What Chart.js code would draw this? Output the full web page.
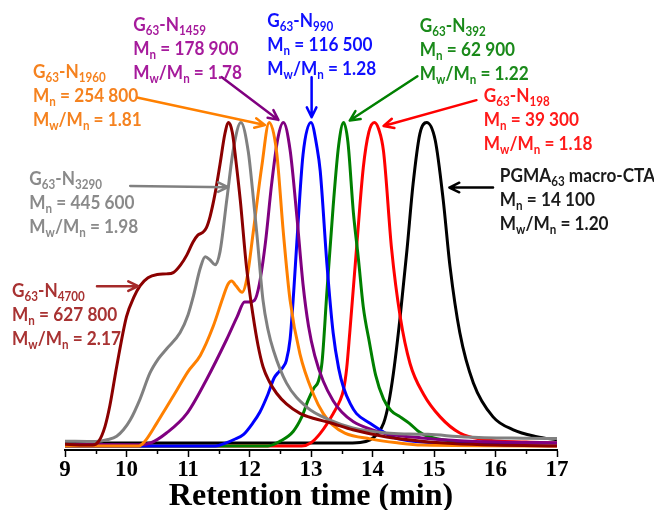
<!DOCTYPE html>
<html>
<head>
<meta charset="utf-8">
<script src="https://cdn.jsdelivr.net/npm/chart.js@4/dist/chart.umd.min.js"></script>
<style>
  body { margin: 0; background: #fff; }
  #wrap { width: 654px; height: 510px; position: relative; }
</style>
</head>
<body>
<div id="wrap"><canvas id="gpc"></canvas></div>
<script>
// retention time (min) and normalised RI signal for each trace
const tN4700 = [9, 9.45, 9.55, 9.65, 9.73, 9.84, 10.0, 10.12, 10.22, 10.35, 10.5, 10.65, 10.76, 10.88, 10.98, 11.08, 11.16, 11.24, 11.3, 11.36, 11.44, 11.52, 11.6, 11.66, 11.72, 11.78, 11.85, 11.95, 12.06, 12.14, 12.22, 12.32, 12.44, 12.6, 12.82, 13.05, 13.31, 13.68, 14.23, 14.8, 15.3, 16, 17];
const yN4700 = [0.5, 0.3, 1.5, 6, 12.5, 24.5, 40, 46, 49.5, 52, 53, 53.2, 53.6, 56, 59, 63, 65.2, 66, 67.5, 71, 78, 87, 96.5, 100, 97, 88, 76, 55.5, 40, 31, 24.5, 20, 16.3, 13, 10.1, 8.5, 7.2, 5, 2.8, 1.5, 0.8, 0.3, 0];

const tN3290 = [9, 9.5, 9.7, 9.84, 9.95, 10.06, 10.22, 10.38, 10.52, 10.65, 10.87, 11.0, 11.09, 11.2, 11.28, 11.36, 11.44, 11.52, 11.63, 11.74, 11.86, 11.98, 12.05, 12.12, 12.22, 12.3, 12.39, 12.6, 12.93, 13.31, 13.68, 14.23, 14.6, 14.9, 15.5, 16.5, 17];
const yN3290 = [1.5, 1.4, 2, 3, 5, 8, 14.5, 22.5, 27, 30, 35, 40.5, 46.5, 55, 58.5, 57.5, 56, 60, 76, 92, 100, 91, 79, 65.5, 45, 36, 29.5, 19.5, 12, 8, 5.6, 4, 3.7, 3.6, 2.8, 2.4, 2.3];

const tN1960 = [9, 10.2, 10.3, 10.49, 10.65, 10.82, 11.0, 11.2, 11.41, 11.57, 11.65, 11.71, 11.78, 11.88, 11.96, 12.06, 12.2, 12.32, 12.44, 12.55, 12.66, 12.82, 13.04, 13.2, 13.35, 13.55, 13.96, 14.4, 14.8, 17];
const yN1960 = [0, 0, 1.5, 7, 12, 17.3, 23, 28, 37, 46, 50, 51, 49.5, 47.5, 52, 66, 86.5, 100, 91, 66, 45, 28.5, 16, 10, 6.5, 4, 2.2, 1, 0.3, 0];

const tN1459 = [9, 10.2, 10.4, 10.65, 10.98, 11.3, 11.63, 11.8, 11.92, 12.0, 12.08, 12.16, 12.26, 12.36, 12.46, 12.55, 12.66, 12.77, 12.87, 12.96, 13.06, 13.2, 13.36, 13.5, 13.69, 14.0, 14.23, 14.8, 15.3, 16, 17];
const yN1459 = [0.5, 0.4, 1, 4, 10, 20.5, 33, 40, 44.5, 44.5, 45, 50, 63, 81, 95, 100, 91.5, 71, 50, 37, 28, 20, 14, 10.5, 7.5, 5, 3.8, 2.5, 1.8, 1.2, 1];

const tN990 = [9, 11.45, 11.6, 11.75, 11.9, 12.05, 12.17, 12.3, 12.4, 12.48, 12.55, 12.6, 12.66, 12.72, 12.77, 12.87, 13.0, 13.1, 13.15, 13.26, 13.36, 13.45, 13.53, 13.64, 13.74, 13.96, 14.12, 14.3, 14.5, 15, 16, 17];
const yN990 = [0, 0, 0.8, 2, 3.5, 7, 10.5, 16, 21, 23, 24.5, 26.5, 33, 48, 63, 90, 100, 92, 85, 56, 35, 24, 18, 13, 10, 7, 5, 3, 1.9, 1, 0.7, 0.6];

const tN392 = [9, 12.3, 12.5, 12.71, 12.85, 12.95, 13.05, 13.12, 13.18, 13.26, 13.36, 13.45, 13.53, 13.6, 13.69, 13.77, 13.85, 13.95, 14.05, 14.18, 14.3, 14.45, 14.6, 14.75, 14.9, 15.3, 16, 17];
const yN392 = [0, 0, 1.5, 4.5, 9, 14, 18, 20, 26, 48, 74, 93, 100, 94, 72, 58, 43, 32, 22, 14.5, 11, 9, 7, 4.5, 3, 1.5, 0.6, 0.4];

const tN198 = [9, 12.85, 13.0, 13.15, 13.36, 13.47, 13.53, 13.58, 13.63, 13.74, 13.85, 13.94, 14.03, 14.1, 14.18, 14.31, 14.45, 14.61, 14.83, 15.1, 15.42, 15.8, 16.5, 17];
const yN198 = [0, 0, 1, 3.9, 10, 14, 17.5, 24, 35, 61, 86, 97, 100, 98, 91, 61, 40, 25.5, 16, 9, 4, 2, 1.2, 0.9];

const tCTA = [9, 13.5, 13.8, 13.96, 14.08, 14.18, 14.26, 14.34, 14.45, 14.56, 14.66, 14.77, 14.88, 15.02, 15.15, 15.26, 15.42, 15.64, 15.96, 16.29, 16.67, 17];
const yCTA = [0.9, 0.9, 1.1, 1.9, 3.8, 7, 13, 22.5, 40, 60.5, 81, 96.5, 100, 94.5, 76, 55.5, 35, 19.5, 9, 5, 2.9, 1.9];

// annotation texts, _{..} marks a subscript
const txtN4700 = ['G_{63}-N_{4700}', 'M_{n} = 627 800', 'M_{w}/M_{n} = 2.17'];
const txtN3290 = ['G_{63}-N_{3290}', 'M_{n} = 445 600', 'M_{w}/M_{n} = 1.98'];
const txtN1960 = ['G_{63}-N_{1960}', 'M_{n} = 254 800', 'M_{w}/M_{n} = 1.81'];
const txtN1459 = ['G_{63}-N_{1459}', 'M_{n} = 178 900', 'M_{w}/M_{n} = 1.78'];
const txtN990 = ['G_{63}-N_{990}', 'M_{n} = 116 500', 'M_{w}/M_{n} = 1.28'];
const txtN392 = ['G_{63}-N_{392}', 'M_{n} = 62 900', 'M_{w}/M_{n} = 1.22'];
const txtN198 = ['G_{63}-N_{198}', 'M_{n} = 39 300', 'M_{w}/M_{n} = 1.18'];
const txtCTA = ['PGMA_{63} macro-CTA', 'M_{n} = 14 100', 'M_{w}/M_{n} = 1.20'];

const xTitle = 'Retention time (min)';

function pts(xs, ys) {
  return xs.map((x, i) => ({x: x, y: ys[i]}));
}

function trace(label, xs, ys, color) {
  return {
    label: label,
    data: pts(xs, ys),
    borderColor: color,
    backgroundColor: color,
    borderWidth: 3,
    pointRadius: 0,
    fill: false,
    cubicInterpolationMode: 'monotone'
  };
}

// label anchor (data coords), text colour, arrow from -> to (data coords)
const notes = [
  {text: txtN4700, at: [8.14, 46.0], color: '#a83232', arrow: [[9.52, 49.4], [10.19, 49.4]], arrowColor: '#a52a2a'},
  {text: txtN3290, at: [8.42, 80.6], color: '#8a8a8a', arrow: [[10.06, 80.4], [11.65, 80.0]], arrowColor: '#808080'},
  {text: txtN1960, at: [8.48, 113.6], color: '#f5821f', arrow: [[10.17, 107.7], [12.25, 99.2]], arrowColor: '#ff8000'},
  {text: txtN1459, at: [10.11, 128.4], color: '#a61b9c', arrow: [[11.55, 114.0], [12.47, 100.8]], arrowColor: '#800080'},
  {text: txtN990, at: [12.29, 129.5], color: '#1010ff', arrow: [[13.01, 114.0], [13.01, 101.6]], arrowColor: '#0000ff'},
  {text: txtN392, at: [14.77, 127.9], color: '#1a8a1a', arrow: [[14.73, 114.3], [13.63, 100.6]], arrowColor: '#008000'},
  {text: txtN198, at: [15.81, 106.3], color: '#ff1a1a', arrow: [[15.69, 106.9], [14.18, 98.9]], arrowColor: '#ff0000'},
  {text: txtCTA, at: [16.07, 81.5], color: '#1a1a1a', arrow: [[15.96, 79.9], [15.25, 79.9]], arrowColor: '#000000'}
];

function richLine(ctx, str, x, y) {
  const parts = str.split(/_\{|\}/);
  ctx.save();
  ctx.translate(x, y);
  ctx.scale(0.93, 1);
  let cx = 0;
  parts.forEach(function(p, i) {
    if (!p) return;
    const sub = i % 2 === 1;
    ctx.font = sub ? 'bold 12.5px Lato' : 'bold 18.5px Lato';
    ctx.fillText(p, cx, sub ? 4 : 0);
    cx += ctx.measureText(p).width;
  });
  ctx.restore();
}

const annotate = {
  id: 'annotate',
  afterDraw(chart) {
    const ctx = chart.ctx;
    const xs = chart.scales.x, ys = chart.scales.y;
    ctx.save();

    // minor ticks, shorter than the labelled ones
    ctx.strokeStyle = '#000';
    ctx.lineWidth = 1.5;
    xs.ticks.forEach(function(t) {
      if (Number.isInteger(t.value)) return;
      const px = Math.round(xs.getPixelForValue(t.value)) + 0.5;
      ctx.beginPath();
      ctx.moveTo(px, chart.chartArea.bottom);
      ctx.lineTo(px, chart.chartArea.bottom + 4);
      ctx.stroke();
    });

    notes.forEach(function(n) {
      // arrow
      const x0 = xs.getPixelForValue(n.arrow[0][0]), y0 = ys.getPixelForValue(n.arrow[0][1]);
      const x1 = xs.getPixelForValue(n.arrow[1][0]), y1 = ys.getPixelForValue(n.arrow[1][1]);
      const ang = Math.atan2(y1 - y0, x1 - x0);
      ctx.strokeStyle = n.arrowColor;
      ctx.lineWidth = 2.5;
      ctx.lineCap = 'round';
      ctx.lineJoin = 'round';
      ctx.beginPath();
      ctx.moveTo(x0, y0);
      ctx.lineTo(x1, y1);
      ctx.moveTo(x1 - 11 * Math.cos(ang - 0.45), y1 - 11 * Math.sin(ang - 0.45));
      ctx.lineTo(x1, y1);
      ctx.lineTo(x1 - 11 * Math.cos(ang + 0.45), y1 - 11 * Math.sin(ang + 0.45));
      ctx.stroke();

      // text block
      const lx = xs.getPixelForValue(n.at[0]);
      const ly = ys.getPixelForValue(n.at[1]);
      ctx.fillStyle = n.color;
      ctx.textBaseline = 'alphabetic';
      ctx.textAlign = 'left';
      n.text.forEach(function(line, i) {
        richLine(ctx, line, lx, ly + i * 24);
      });
    });
    ctx.restore();
  }
};

const ctx = document.getElementById('gpc');

new Chart(ctx, {
  type: 'line',
  data: {
    datasets: [
      trace('G63-N4700', tN4700, yN4700, '#8b0000'),
      trace('G63-N3290', tN3290, yN3290, '#808080'),
      trace('G63-N1960', tN1960, yN1960, '#ff8000'),
      trace('G63-N1459', tN1459, yN1459, '#800080'),
      trace('G63-N990', tN990, yN990, '#0000ff'),
      trace('G63-N392', tN392, yN392, '#008000'),
      trace('G63-N198', tN198, yN198, '#ff0000'),
      trace('PGMA63 macro-CTA', tCTA, yCTA, '#000000')
    ]
  },
  options: {
    responsive: true,
    maintainAspectRatio: false,
    animation: false,
    layout: {
      padding: {left: 65, right: 97, top: 0, bottom: 0}
    },
    plugins: {
      legend: {display: false},
      tooltip: {enabled: false}
    },
    scales: {
      x: {
        type: 'linear',
        min: 9,
        max: 17,
        ticks: {
          stepSize: 0.5,
          autoSkip: false,
          maxRotation: 0,
          padding: 2,
          color: '#000',
          font: {family: 'Liberation Serif', size: 23, weight: 'bold', lineHeight: 1},
          callback: function(v) { return Number.isInteger(v) ? String(v) : ''; }
        },
        grid: {
          drawOnChartArea: false,
          drawTicks: true,
          tickLength: 7,
          tickWidth: 1.5,
          tickColor: function(c) { return Number.isInteger(c.tick.value) ? '#000' : 'rgba(0,0,0,0)'; }
        },
        border: {display: true, color: '#000', width: 2},
        title: {
          display: true,
          text: xTitle,
          color: '#000',
          padding: {top: 0, bottom: 0},
          font: {family: 'Liberation Serif', size: 32, weight: 'bold', lineHeight: 0.8125}
        }
      },
      y: {
        display: false,
        min: -1.24,
        max: 137.86
      }
    }
  },
  plugins: [annotate]
});
</script>
</body>
</html>
